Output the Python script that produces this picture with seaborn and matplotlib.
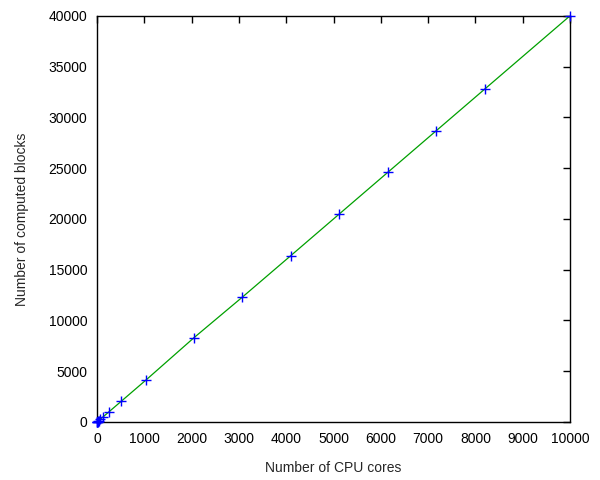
import pandas as pd
import matplotlib
matplotlib.use("Agg")
import matplotlib.pyplot as plt
import seaborn as sns

# data
cores = [1, 2, 4, 8, 16, 32, 64, 128, 256, 512, 1024, 2048, 3072, 4096, 5120, 6144, 7168, 8192, 10000]
blocks = [4, 8, 16, 32, 64, 128, 256, 512, 1024, 2048, 4096, 8300, 12300, 16384, 20480, 24576, 28672, 32768, 40000]

df = pd.DataFrame({"cores": cores, "blocks": blocks})

sns.set_style("white")
plt.rcParams["font.family"] = ["Liberation Sans", "DejaVu Sans"]

fig = plt.figure(figsize=(6, 4.8), dpi=100)
ax = fig.add_axes([0.162, 0.121, 0.788, 0.846])

sns.lineplot(data=df, x="cores", y="blocks", ax=ax, color="#00a000", linewidth=0.9)
sns.scatterplot(data=df, x="cores", y="blocks", ax=ax, marker="+", color="#0000ff",
                s=60, linewidth=1.0, zorder=3, clip_on=False)

ax.set_xlim(0, 10000)
ax.set_ylim(0, 40000)
ax.set_xticks(range(0, 10001, 1000))
ax.set_yticks(range(0, 40001, 5000))
ax.tick_params(direction="in", length=5, width=1, top=True, right=True,
               labelsize=10, colors="black", pad=7)
for s in ax.spines.values():
    s.set_color("black")
    s.set_linewidth(1)

ax.set_xlabel("Number of CPU cores", fontsize=10, labelpad=11)
ax.set_ylabel("Number of computed blocks", fontsize=10, labelpad=14)

fig.savefig("out.png", dpi=100)
